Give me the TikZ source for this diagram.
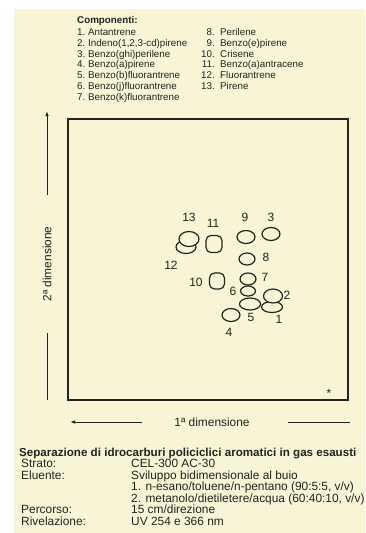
\documentclass[tikz,border=0pt]{standalone}
\usepackage{fontspec}
\setmainfont{Liberation Sans}
\usepackage{xcolor}
\usetikzlibrary{arrows.meta,shapes.geometric}

\definecolor{paper}{RGB}{247,245,213}
\definecolor{ink}{RGB}{35,35,35}

\tikzset{
  spot/.style={draw=ink, line width=1.2pt, ellipse, fill=paper, inner sep=0pt},
  squarespot/.style={draw=ink, line width=1.2pt, rectangle, rounded corners=5pt, fill=paper, inner sep=0pt},
  spotlabel/.style={text=ink, inner sep=0pt, font=\fontsize{12}{12}\selectfont},
  listtext/.style={text=ink, inner sep=0pt, anchor=base west, font=\fontsize{9.8}{10}\selectfont},
  rowtext/.style={text=ink, inner sep=0pt, anchor=base west, font=\fontsize{11.9}{12}\selectfont},
  axis/.style={draw=ink, line width=0.9pt}
}

\begin{document}
\begin{tikzpicture}[x=1pt, y=-1pt]
\useasboundingbox (0,0) rectangle (365,533);
\fill[white] (0,0) rectangle (365,533);
\fill[paper] (14,9) rectangle (365,533);

% Components list
\node[listtext, font=\bfseries\fontsize{9.8}{10}\selectfont] (comptitle) at (77,23.5) {Componenti:};
\foreach \name [count=\i] in {Antantrene, {Indeno(1,2,3-cd)pirene}, Benzo(ghi)perilene,
    Benzo(a)pirene, Benzo(b)fluorantrene, Benzo(j)fluorantrene, Benzo(k)fluorantrene} {
    \node[listtext] (comp\i) at (77,{35.5+10.8*(\i-1)}) {\i.~\name};
}
\foreach \name [count=\i from 8] in {Perilene, Benzo(e)pirene, Crisene,
    Benzo(a)antracene, Fluorantrene, Pirene} {
    \node[listtext, anchor=base east] (num\i) at (215,{35.5+10.8*(\i-8)}) {\i.};
    \node[listtext] (comp\i) at (220,{35.5+10.8*(\i-8)}) {\name};
}

% Plate
\draw[ink, line width=1.2pt] (68,119) rectangle (348,400);
\node[text=ink, inner sep=0pt, font=\fontsize{12}{12}\selectfont] (star) at (329,393) {*};

% Second dimension
\coordinate (ytop) at (47,111);
\coordinate (ybot) at (47,400);
\node[rowtext, anchor=center, rotate=90] (dimtwo) at (47,264) {2ª dimensione};
\draw[axis, -{Latex[length=5pt,width=3.5pt]}] (47,195) -- (ytop);
\draw[axis] (47,333) -- (ybot);

% First dimension
\coordinate (xleft) at (70,422);
\coordinate (xright) at (350,422);
\node[rowtext, anchor=center] (dimone) at (212,422) {1ª dimensione};
\draw[axis, -{Latex[length=5pt,width=3.5pt]}] (142,422) -- (xleft);
\draw[axis] (288,422) -- (xright);

% Spots
\node[spot, minimum width=20pt, minimum height=13pt] (s12) at (186,247) {};
\node[spot, minimum width=20pt, minimum height=15pt] (s13) at (189,239) {};
\node[squarespot, minimum width=16pt, minimum height=17pt] (s11) at (214,244) {};
\node[spot, minimum width=18pt, minimum height=13pt] (s9) at (246,237) {};
\node[spot, minimum width=18pt, minimum height=13pt] (s3) at (271,234) {};
\node[spot, minimum width=16pt, minimum height=12pt] (s8) at (247,259) {};
\node[squarespot, minimum width=15pt, minimum height=16pt] (s10) at (217,281) {};
\node[spot, minimum width=21pt, minimum height=12pt] (s5) at (250,304) {};
\node[spot, minimum width=15pt, minimum height=10pt] (s6) at (248,291) {};
\node[spot, minimum width=16pt, minimum height=12pt] (s7) at (248,279) {};
\node[spot, minimum width=21pt, minimum height=11pt] (s1) at (272,307) {};
\node[spot, minimum width=19pt, minimum height=14pt] (s2) at (273,296) {};
\node[spot, minimum width=18pt, minimum height=13pt] (s4) at (231,315) {};

% Spot numbers
\node[spotlabel] (l13) at (189,217) {13};
\node[spotlabel] (l11) at (213,223) {11};
\node[spotlabel] (l9) at (245,217) {9};
\node[spotlabel] (l3) at (271,217) {3};
\node[spotlabel] (l12) at (171,265) {12};
\node[spotlabel] (l10) at (196,282) {10};
\node[spotlabel] (l8) at (266,257) {8};
\node[spotlabel] (l7) at (265,277) {7};
\node[spotlabel] (l6) at (233,291) {6};
\node[spotlabel] (l2) at (287,295) {2};
\node[spotlabel] (l5) at (251,317) {5};
\node[spotlabel] (l1) at (279,319) {1};
\node[spotlabel] (l4) at (229,332) {4};

% Conditions
\node[rowtext, font=\bfseries\fontsize{11.6}{12}\selectfont] (title) at (19,456)
  {Separazione di idrocarburi policiclici aromatici in gas esausti};
\node[rowtext] (strato) at (21,467.5) {Strato:};
\node[rowtext] (stratoval) at (131,467.5) {CEL-300 AC-30};
\node[rowtext] (eluente) at (21,479) {Eluente:};
\node[rowtext] (eluenteval) at (131,479) {Sviluppo bidimensionale al buio};
\node[rowtext] (eluenteone) at (131,490.5) {1. n-esano/toluene/n-pentano (90:5:5, v/v)};
\node[rowtext] (eluentetwo) at (131,502) {2. metanolo/dietiletere/acqua (60:40:10, v/v)};
\node[rowtext] (percorso) at (21,513.5) {Percorso:};
\node[rowtext] (percorsoval) at (131,513.5) {15 cm/direzione};
\node[rowtext] (rivelazione) at (21,525) {Rivelazione:};
\node[rowtext] (rivelazioneval) at (131,525) {UV 254 e 366 nm};
\end{tikzpicture}
\end{document}
